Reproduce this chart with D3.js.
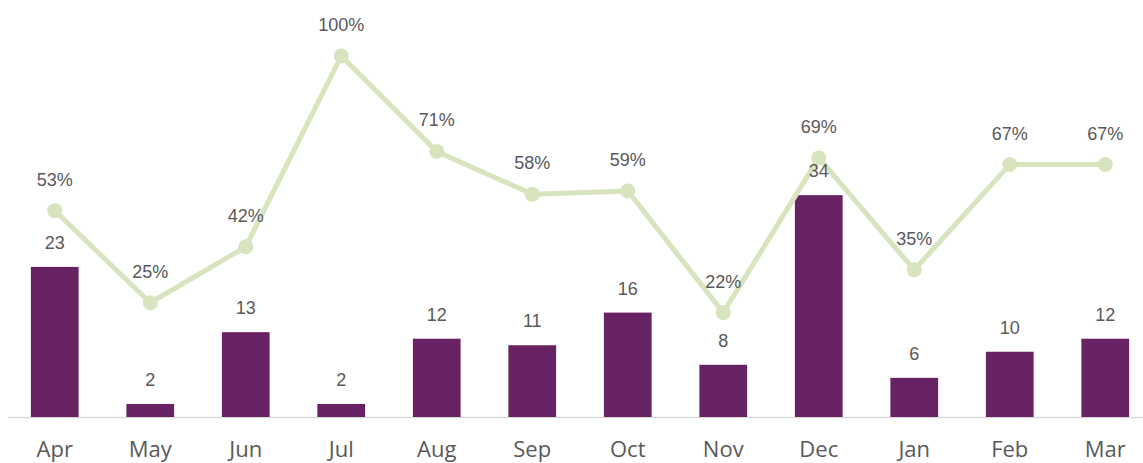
<!DOCTYPE html>
<html>
<head>
<meta charset="utf-8">
<script src="https://cdn.jsdelivr.net/npm/d3@7"></script>
<style>
  html, body { margin: 0; padding: 0; background: #fff; overflow: hidden; }
  svg { display: block; }
</style>
</head>
<body>
<script>
const SVG_DIM = {W: 1143, H: 463};

const months = ['Apr', 'May', 'Jun', 'Jul', 'Aug', 'Sep', 'Oct', 'Nov', 'Dec', 'Jan', 'Feb', 'Mar'];
const counts = [23, 2, 13, 2, 12, 11, 16, 8, 34, 6, 10, 12];
const rates = [53, 25, 42, 100, 71, 58, 59, 22, 69, 35, 67, 67];

const svg = d3.select('body')
    .append('svg')
    .attr('width', SVG_DIM.W)
    .attr('height', SVG_DIM.H);

// scales
const x = d3.scaleBand()
    .domain(months)
    .range([7, 1153])
    .paddingInner(0.5)
    .paddingOuter(0.25);

const yBar = d3.scaleLinear()
    .domain([0, 40])
    .range([417, 156]);

const yLine = d3.scaleLinear()
    .domain([0, 100])
    .range([385, 56]);

const cx = d => x(d) + x.bandwidth() / 2;

// baseline
svg.append('line')
    .attr('x1', 8)
    .attr('x2', SVG_DIM.W)
    .attr('y1', yBar(0) + 0.5)
    .attr('y2', yBar(0) + 0.5)
    .attr('stroke', '#d9d9d9')
    .attr('stroke-width', 1.5);

// bars
svg.selectAll('.bar')
    .data(months)
    .enter()
    .append('rect')
    .attr('class', 'bar')
    .attr('x', d => x(d))
    .attr('width', x.bandwidth())
    .attr('y', (d, i) => yBar(counts[i]))
    .attr('height', (d, i) => yBar(0) - yBar(counts[i]))
    .attr('fill', '#672263');

// line
const line = d3.line()
    .x(d => cx(d))
    .y((d, i) => yLine(rates[i]));

svg.append('path')
    .datum(months)
    .attr('d', line)
    .attr('fill', 'none')
    .attr('stroke', '#d7e4bd')
    .attr('stroke-width', 5)
    .attr('stroke-linejoin', 'round');

svg.selectAll('.dot')
    .data(months)
    .enter()
    .append('circle')
    .attr('class', 'dot')
    .attr('cx', d => cx(d))
    .attr('cy', (d, i) => yLine(rates[i]))
    .attr('r', 7.5)
    .attr('fill', '#d7e4bd');

// bar labels
svg.selectAll('.bar-label')
    .data(months)
    .enter()
    .append('text')
    .attr('class', 'bar-label')
    .attr('x', d => cx(d))
    .attr('y', (d, i) => yBar(counts[i]) - 18)
    .attr('text-anchor', 'middle')
    .style('font-family', '"Liberation Sans", Arial, sans-serif')
    .style('font-size', '18px')
    .attr('fill', '#595959')
    .text((d, i) => counts[i]);

// rate labels
svg.selectAll('.rate-label')
    .data(months)
    .enter()
    .append('text')
    .attr('class', 'rate-label')
    .attr('x', d => cx(d))
    .attr('y', (d, i) => yLine(rates[i]) - 25)
    .attr('text-anchor', 'middle')
    .style('font-family', '"Liberation Sans", Arial, sans-serif')
    .style('font-size', '18px')
    .attr('fill', '#595959')
    .text((d, i) => rates[i] + '%');

// x axis labels
svg.selectAll('.x-label')
    .data(months)
    .enter()
    .append('text')
    .attr('class', 'x-label')
    .attr('x', d => cx(d))
    .attr('y', 457)
    .attr('text-anchor', 'middle')
    .style('font-family', '"Open Sans", Lato, sans-serif')
    .style('font-size', '22px')
    .attr('fill', '#595959')
    .text(d => d);
</script>
</body>
</html>
